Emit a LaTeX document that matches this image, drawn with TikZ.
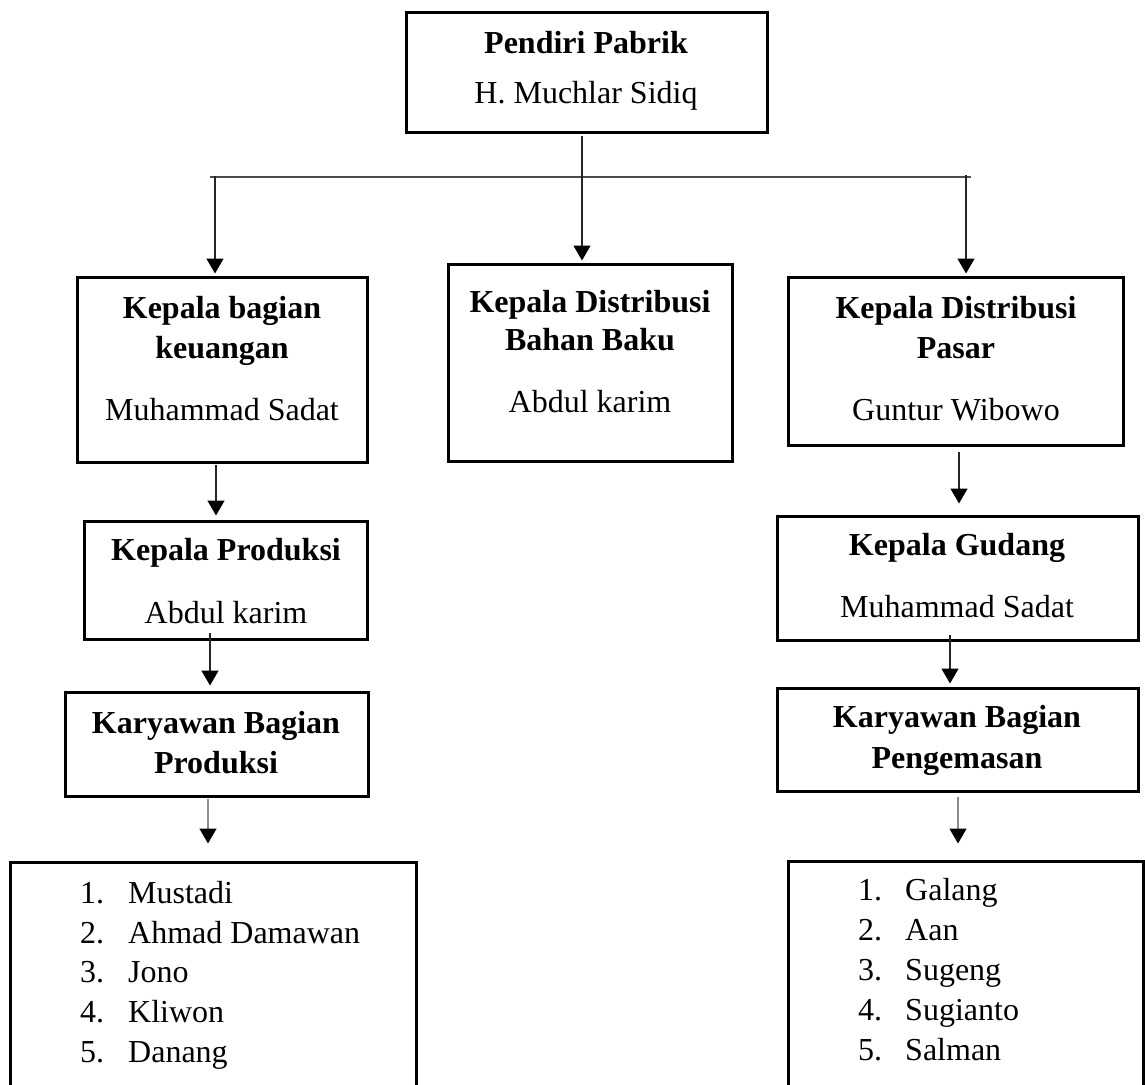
\documentclass[tikz,border=0pt]{standalone}
\usepackage{fontspec}
\setmainfont{Liberation Serif}
\usetikzlibrary{arrows.meta,calc}
\begin{document}
\begin{tikzpicture}[x=1pt,y=-1pt,
  box/.style={draw=black, line width=3pt, rectangle, inner sep=0pt},
  txt/.style={inner sep=0pt, anchor=base, font=\fontsize{32}{40}\selectfont},
  btxt/.style={inner sep=0pt, anchor=base, font=\fontsize{32}{40}\selectfont\bfseries},
  ltxt/.style={inner sep=0pt, anchor=base west, font=\fontsize{32}{40}\selectfont},
  conn/.style={draw=black!70, line width=1.8pt},
  arr/.style={draw=black!85, line width=1.5pt, -{Triangle[length=15pt,width=17pt,color=black]}},
  garr/.style={draw=black!45, line width=1.5pt, -{Triangle[length=15pt,width=17pt,color=black]}}]
\useasboundingbox (0,0) rectangle (1145,1084);
\clip (0,0) rectangle (1145,1084);

% boxes
\node[box, minimum width=361pt, minimum height=120pt] (top) at (586.5,72) {};
\node[box, minimum width=290pt, minimum height=185pt] (kb)  at (222,369.5) {};
\node[box, minimum width=284pt, minimum height=197pt] (kdb) at (590,362.5) {};
\node[box, minimum width=335pt, minimum height=168pt] (kdp) at (955.5,361) {};
\node[box, minimum width=283pt, minimum height=118pt] (kp)  at (225.5,580) {};
\node[box, minimum width=361pt, minimum height=124pt] (kg)  at (957.5,578) {};
\node[box, minimum width=303pt, minimum height=104pt] (kbp) at (216.5,744) {};
\node[box, minimum width=361pt, minimum height=103pt] (kbg) at (957.5,739.5) {};
\node[box, minimum width=406pt, minimum height=248pt] (lp)  at (213,986) {};
\node[box, minimum width=355pt, minimum height=249pt] (lg)  at (965.5,985.5) {};

% texts
\node[btxt] (t1) at (586,53) {Pendiri Pabrik};
\node[txt]  (t2) at (586,103) {H. Muchlar Sidiq};

\node[btxt] (t3) at (222,318) {Kepala bagian};
\node[btxt] (t4) at (222,358) {keuangan};
\node[txt]  (t5) at (222,420) {Muhammad Sadat};

\node[btxt] (t6) at (590,312) {Kepala Distribusi};
\node[btxt] (t7) at (590,350) {Bahan Baku};
\node[txt]  (t8) at (590,412) {Abdul karim};

\node[btxt] (t9)  at (956,318) {Kepala Distribusi};
\node[btxt] (t10) at (956,358) {Pasar};
\node[txt]  (t11) at (956,420) {Guntur Wibowo};

\node[btxt] (t12) at (226,560) {Kepala Produksi};
\node[txt]  (t13) at (226,623) {Abdul karim};

\node[btxt] (t14) at (957,555) {Kepala Gudang};
\node[txt]  (t15) at (957,617) {Muhammad Sadat};

\node[btxt] (t16) at (216,733) {Karyawan Bagian};
\node[btxt] (t17) at (216,773) {Produksi};

\node[btxt] (t18) at (957,727) {Karyawan Bagian};
\node[btxt] (t19) at (957,768) {Pengemasan};

\node[ltxt] (n1) at (80,903) {1.};  \node[ltxt] (m1) at (128,903) {Mustadi};
\node[ltxt] (n2) at (80,943) {2.};  \node[ltxt] (m2) at (128,943) {Ahmad Damawan};
\node[ltxt] (n3) at (80,982) {3.};  \node[ltxt] (m3) at (128,982) {Jono};
\node[ltxt] (n4) at (80,1022) {4.}; \node[ltxt] (m4) at (128,1022) {Kliwon};
\node[ltxt] (n5) at (80,1062) {5.}; \node[ltxt] (m5) at (128,1062) {Danang};

\node[ltxt] (r1) at (858,900) {1.};  \node[ltxt] (s1) at (905,900) {Galang};
\node[ltxt] (r2) at (858,940) {2.};  \node[ltxt] (s2) at (905,940) {Aan};
\node[ltxt] (r3) at (858,980) {3.};  \node[ltxt] (s3) at (905,980) {Sugeng};
\node[ltxt] (r4) at (858,1020) {4.}; \node[ltxt] (s4) at (905,1020) {Sugianto};
\node[ltxt] (r5) at (858,1060) {5.}; \node[ltxt] (s5) at (905,1060) {Salman};

% connectors
\coordinate (busL) at (210,177);
\coordinate (busR) at (971,177);
\coordinate (jL) at (215,176);
\coordinate (jR) at (966,175);
\coordinate (cA) at (582,0);
\coordinate (cB) at (216,0);
\coordinate (cC) at (210,0);
\coordinate (cD) at (208,0);
\coordinate (cE) at (959,0);
\coordinate (cF) at (950,0);
\coordinate (cG) at (958,0);

\draw[conn] (busL) -- (busR);
\draw[arr, shorten <=2pt, shorten >=2pt] (cA |- top.south) -- (cA |- kdb.north);
\draw[arr, shorten >=2pt] (jL) -- (jL |- kb.north);
\draw[arr, shorten >=2pt] (jR) -- (jR |- kdp.north);
\draw[arr, shorten <=1pt, shorten >=4pt] (cB |- kb.south) -- (cB |- kp.north);
\draw[arr, shorten <=-8pt, shorten >=5pt] (cC |- kp.south) -- (cC |- kbp.north);
\draw[garr, shorten <=1pt, shorten >=17pt] (cD |- kbp.south) -- (cD |- lp.north);
\draw[arr, shorten <=5pt, shorten >=11pt] (cE |- kdp.south) -- (cE |- kg.north);
\draw[arr, shorten <=-7pt, shorten >=3pt] (cF |- kg.south) -- (cF |- kbg.north);
\draw[garr, shorten <=4pt, shorten >=16pt] (cG |- kbg.south) -- (cG |- lg.north);
\end{tikzpicture}
\end{document}
